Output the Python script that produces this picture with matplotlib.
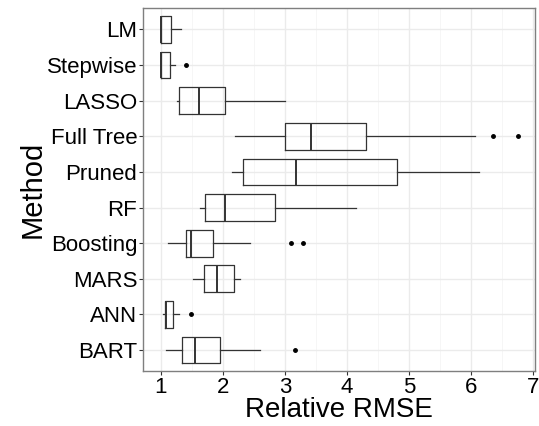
import numpy as np
from matplotlib import pyplot as plt
from matplotlib.ticker import MultipleLocator

plt.rcParams['font.family'] = ['Liberation Sans', 'DejaVu Sans']

methods = ['LM', 'Stepwise', 'LASSO', 'Full Tree', 'Pruned', 'RF', 'Boosting', 'MARS', 'ANN', 'BART']
whislo = [1.00, 1.00, 1.26, 2.20, 2.14, 1.63, 1.11, 1.52, 1.04, 1.09]
q1     = [1.00, 1.00, 1.30, 3.00, 2.33, 1.71, 1.41, 1.70, 1.07, 1.34]
med    = [1.01, 1.01, 1.61, 3.42, 3.18, 2.04, 1.49, 1.90, 1.08, 1.55]
q3     = [1.17, 1.14, 2.03, 4.30, 4.81, 2.84, 1.84, 2.18, 1.20, 1.95]
whishi = [1.33, 1.23, 3.00, 6.06, 6.12, 4.14, 2.44, 2.28, 1.29, 2.60]
fliers = [[], [1.40], [], [6.35, 6.76], [], [], [3.10, 3.29], [], [1.48], [3.16]]

stats = []
for i in range(len(methods)):
    stats.append(dict(label=methods[i], whislo=whislo[i], q1=q1[i], med=med[i],
                      q3=q3[i], whishi=whishi[i], fliers=fliers[i]))

fig = plt.figure(figsize=(5.39, 4.26), dpi=100)
ax = fig.add_axes([0.265, 0.128, 0.728, 0.853])

pos = np.arange(len(methods), 0, -1)   # LM on top
ax.bxp(stats, positions=pos, vert=False, widths=0.75, showcaps=False,
       boxprops=dict(color='#333333', linewidth=0.9),
       medianprops=dict(color='#333333', linewidth=1.4),
       whiskerprops=dict(color='#333333', linewidth=0.9),
       flierprops=dict(marker='o', markersize=2.5, markerfacecolor='black',
                       markeredgecolor='black', linestyle='none'),
       zorder=3)

ax.set_xlim(0.71, 7.03)
ax.set_ylim(0.4, len(methods) + 0.6)
ax.set_yticks(pos)
ax.set_yticklabels(methods)
ax.xaxis.set_major_locator(MultipleLocator(1))
ax.xaxis.set_minor_locator(MultipleLocator(0.5))
ax.grid(True, which='major', color='#ebebeb', linewidth=1.0, zorder=0)
ax.grid(True, which='minor', axis='x', color='#f5f5f5', linewidth=0.6, zorder=0)
ax.set_axisbelow(True)
for s in ax.spines.values():
    s.set_color('#7f7f7f')
    s.set_linewidth(1.0)
ax.tick_params(axis='both', which='major', labelsize=16, color='#333333', length=3, pad=1)
ax.tick_params(axis='x', which='minor', length=0)
ax.set_xlabel('Relative RMSE', fontsize=20, labelpad=-1)
ax.set_ylabel('Method', fontsize=21, labelpad=0)

fig.savefig('out.png', dpi=100)
